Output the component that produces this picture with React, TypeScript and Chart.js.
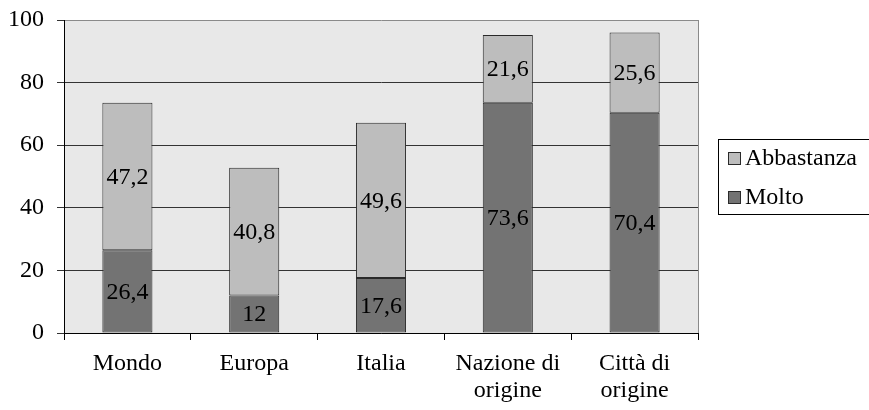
import React, { useEffect, useRef } from 'react';
import { Chart, registerables } from 'chart.js';

Chart.register(...registerables);

const categories: (string | string[])[] = ['Mondo', 'Europa', 'Italia', ['Nazione di', 'origine'], ['Città di', 'origine']];
const molto = [26.4, 12, 17.6, 73.6, 70.4];
const abbastanza = [47.2, 40.8, 49.6, 21.6, 25.6];
const seriesNames = ['Molto', 'Abbastanza'];
const yMin = 0;
const yMax = 100;
const yStep = 20;

const FONT = "'Liberation Serif', 'Times New Roman', serif";
const FS = 24;
const DARK = '#737373';
const LIGHT = '#bdbdbd';
const EDGE = '#2a2a2a';

const fmt = (v: number) => String(v).replace('.', ',');

const bgPlugin = {
  id: 'plotBg',
  beforeDraw(chart: any) {
    const { ctx, chartArea: a } = chart;
    ctx.save();
    ctx.fillStyle = '#e8e8e8';
    ctx.fillRect(a.left, a.top, a.right - a.left, a.bottom - a.top);
    ctx.strokeStyle = '#8a8a8a';
    ctx.lineWidth = 1;
    ctx.beginPath();
    ctx.moveTo(Math.round(a.right) + 0.5, a.top);
    ctx.lineTo(Math.round(a.right) + 0.5, a.bottom);
    ctx.stroke();
    ctx.restore();
  },
};

const labelPlugin = {
  id: 'segLabels',
  afterDatasetsDraw(chart: any) {
    const { ctx } = chart;
    ctx.save();
    ctx.font = `${FS}px ${FONT}`;
    ctx.fillStyle = '#000';
    ctx.textAlign = 'center';
    ctx.textBaseline = 'middle';
    chart.data.datasets.forEach((ds: any, i: number) => {
      const meta = chart.getDatasetMeta(i);
      meta.data.forEach((el: any, j: number) => {
        const v = ds.data[j];
        const cy = (el.y + el.base) / 2;
        ctx.fillText(fmt(v), el.x, cy + 1);
      });
    });
    ctx.restore();
  },
};

const legendPlugin = {
  id: 'boxLegend',
  afterDraw(chart: any) {
    const { ctx } = chart;
    ctx.save();
    ctx.strokeStyle = '#000';
    ctx.lineWidth = 1;
    ctx.strokeRect(718.5, 139.5, 200, 75);
    const items = [
      { name: seriesNames[1], color: LIGHT, y: 152 },
      { name: seriesNames[0], color: DARK, y: 191 },
    ];
    ctx.font = `${FS}px ${FONT}`;
    ctx.textBaseline = 'alphabetic';
    ctx.textAlign = 'left';
    items.forEach((it) => {
      ctx.fillStyle = it.color;
      ctx.fillRect(728, it.y, 12, 12);
      ctx.strokeStyle = EDGE;
      ctx.strokeRect(728.5, it.y + 0.5, 12, 12);
      ctx.fillStyle = '#000';
      ctx.fillText(it.name, 745, it.y + 13);
    });
    ctx.restore();
  },
};

export default function App() {
  const ref = useRef<HTMLCanvasElement>(null);
  useEffect(() => {
    document.body.style.margin = '0';
    Chart.defaults.font.family = FONT;
    Chart.defaults.font.size = FS;
    Chart.defaults.color = '#000';
    const chart = new Chart(ref.current!, {
      type: 'bar',
      data: {
        labels: categories as any,
        datasets: [
          {
            label: seriesNames[0],
            data: molto,
            backgroundColor: DARK,
            borderColor: EDGE,
            borderWidth: 1,
            borderSkipped: false,
            categoryPercentage: 1,
            barPercentage: 0.395,
          },
          {
            label: seriesNames[1],
            data: abbastanza,
            backgroundColor: LIGHT,
            borderColor: EDGE,
            borderWidth: 1,
            borderSkipped: false,
            categoryPercentage: 1,
            barPercentage: 0.395,
          },
        ],
      },
      options: {
        animation: false,
        responsive: true,
        maintainAspectRatio: false,
        layout: { padding: { top: 20, right: 171, left: 0, bottom: 0 } },
        plugins: {
          legend: { display: false },
          tooltip: { enabled: false },
        },
        scales: {
          x: {
            stacked: true,
            afterFit: (s: any) => { s.height = 77; s.paddingLeft = 0; s.paddingRight = 0; },
            grid: {
              offset: true,
              drawOnChartArea: false,
              drawTicks: true,
              tickLength: 7,
              color: '#000',
            },
            border: { color: '#000', width: 1 },
            ticks: { color: '#000', padding: 11, font: { size: FS, family: FONT, lineHeight: 1.1 }, maxRotation: 0, autoSkip: false },
          },
          y: {
            stacked: true,
            min: yMin,
            max: yMax,
            afterFit: (s: any) => { s.width = 64; s.paddingTop = 0; s.paddingBottom = 0; },
            grid: {
              color: (c: any) => (c.tick && c.tick.value === yMax ? '#8a8a8a' : '#333'),
              tickLength: 7,
              tickColor: '#333',
            },
            border: { color: '#000', width: 1 },
            ticks: { stepSize: yStep, color: '#000', padding: 13, font: { size: FS, family: FONT } },
          },
        },
      },
      plugins: [bgPlugin, labelPlugin, legendPlugin],
    });
    return () => chart.destroy();
  }, []);
  return (
    <div style={{ position: 'relative', width: 869, height: 410 }}>
      <canvas ref={ref} />
    </div>
  );
}
